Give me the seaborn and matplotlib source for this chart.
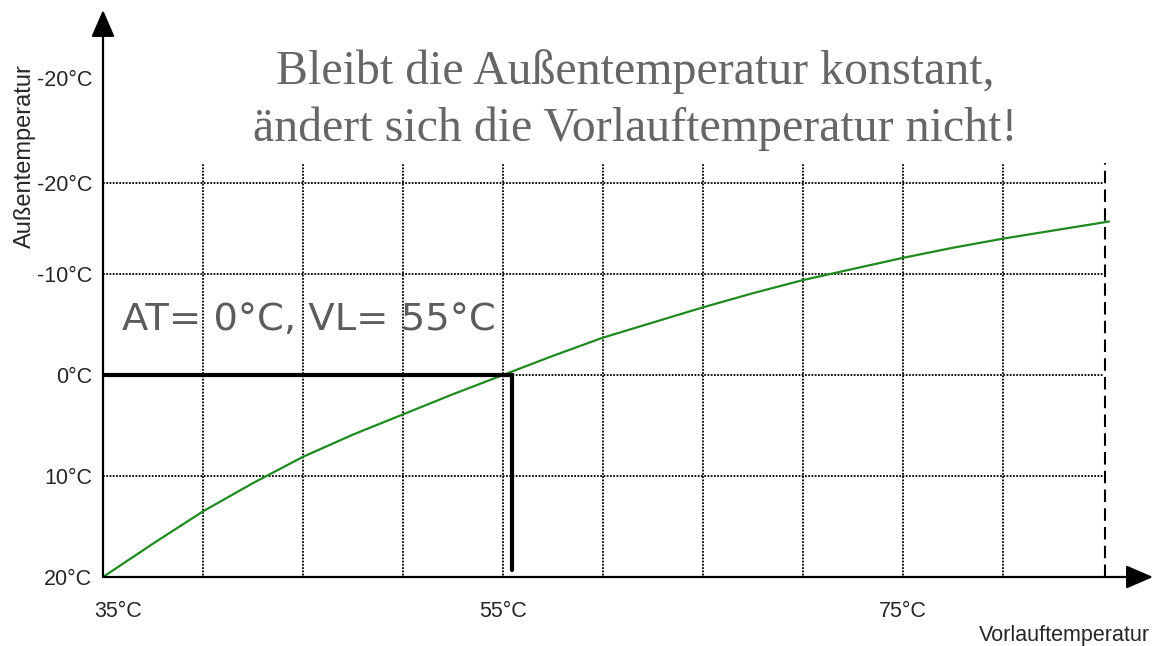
import numpy as np
import pandas as pd
import seaborn as sns
import matplotlib.pyplot as plt
import matplotlib.transforms as mtransforms

# Heizkurve: Vorlauftemperatur (x) gegen Aussentemperatur (y)
vorlauf = [35, 37.5, 40, 42.5, 45, 47.5, 50, 52.5, 55, 57.5, 60, 62.5,
           65, 67.5, 70, 72.5, 75, 77.5, 80, 82.5, 85, 85.3]
aussen = [20, 16.7, 13.5, 10.7, 8.1, 5.9, 3.9, 1.9, 0, -1.9, -3.7, -5.2,
          -6.7, -8.1, -9.4, -10.5, -11.6, -12.6, -13.5, -14.3, -15.1, -15.2]

# Ablesebeispiel AT = 0 °C -> VL = 55 °C
mark_x = [35, 55.45, 55.45]
mark_y = [0, 0, 19.3]

x_ticks = [35, 55, 75]
x_ticklabels = ['35°C', '55°C', '75°C']
y_ticks = [20, 10, 0, -10, -19, -29.4]
y_ticklabels = ['20°C', '10°C', '0°C', '-10°C', '-20°C', '-20°C']
grid_x = [40, 45, 50, 55, 60, 65, 70, 75, 80]
grid_y = [10, 0, -10, -19]
limit_x = 85.1

sns.set_style("white")
plt.rcParams['font.family'] = ['Liberation Sans', 'DejaVu Sans']

W, H = 1155, 646
fig = plt.figure(figsize=(W / 100, H / 100), dpi=100)
left, right, bottom, top = 103, 1153, 577, 10
ax = fig.add_axes([left / W, 1 - bottom / H, (right - left) / W, (bottom - top) / H])
ax.set_xlim(35, 35 + (right - left) / 20)
ax.set_ylim(20, 20 - (bottom - top) / 10.1)

# Raster
ax.vlines(grid_x, 20.5, -21, colors='black', linestyles=(0, (1, 0.8)), lw=1.3)
ax.hlines(grid_y, 35, 85, colors='black', linestyles=(0, (1, 0.8)), lw=1.3)
ax.vlines([limit_x], 20, -21, colors='black', linestyles=(0, (6, 3)), lw=1.5)

df = pd.DataFrame({'Vorlauf': vorlauf, 'Aussen': aussen})
sns.lineplot(data=df, x='Vorlauf', y='Aussen', ax=ax, color='#1f8a1f', lw=1.6,
             sort=False, estimator=None)
ax.plot(mark_x, mark_y, color='black', lw=3, solid_joinstyle='miter')

# Achsen mit Pfeilen
for s in ax.spines.values():
    s.set_visible(False)
ax.annotate('', xy=(0, 1), xytext=(0, 0), xycoords='axes fraction',
            arrowprops=dict(arrowstyle='-|>,head_length=1.66,head_width=0.72',
                            lw=1.6, color='black', shrinkA=0, shrinkB=0))
ax.annotate('', xy=(1, 0), xytext=(0, 0), xycoords='axes fraction',
            arrowprops=dict(arrowstyle='-|>,head_length=1.66,head_width=0.72',
                            lw=1.6, color='black', shrinkA=0, shrinkB=0))

ax.set_xticks(x_ticks)
ax.set_xticklabels(x_ticklabels, fontsize=15.5)
ax.set_yticks(y_ticks)
ax.set_yticklabels(y_ticklabels, fontsize=15.5)
ax.tick_params(axis='x', length=0, pad=17)
ax.tick_params(axis='y', length=0, pad=8)
lab0 = ax.get_xticklabels()[0]
lab0.set_transform(lab0.get_transform() + mtransforms.ScaledTranslation(0.15, 0, fig.dpi_scale_trans))

ax.set_ylabel('Außentemperatur', fontsize=17)
ax.yaxis.set_label_coords(-0.064, 0.742)
ax.set_xlabel('Vorlauftemperatur', fontsize=15.5)
ax.xaxis.set_label_coords(0.916, -0.104)
ax.xaxis.label.set_va('center')

ax.text(35.95, -5.45, 'AT= 0°C, VL= 55°C', fontsize=27.7, color='#5c5c5c',
        family=['DejaVu Sans'], ha='left', va='center')
ax.text(0.507, 0.841, 'Bleibt die Außentemperatur konstant,\nändert sich die Vorlauftemperatur nicht!',
        transform=ax.transAxes, fontsize=34.5, color='#666666', family=['Liberation Serif'],
        ha='center', va='center', multialignment='center', linespacing=1.37)

fig.savefig('out.png', dpi=100)
